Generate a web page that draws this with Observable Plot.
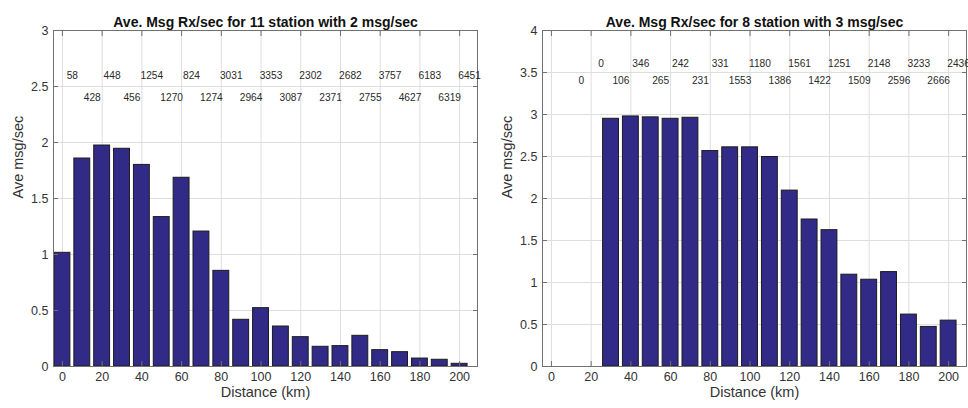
<!DOCTYPE html>
<html>
<head>
<meta charset="utf-8">
<script src="https://cdn.jsdelivr.net/npm/d3@7"></script>
<script src="https://cdn.jsdelivr.net/npm/@observablehq/plot@0.6"></script>
<style>
  html, body { margin: 0; padding: 0; background: #fff; }
  #charts { display: flex; width: 968px; height: 408px; }
  #charts svg { display: block; }
</style>
</head>
<body>
<div id="charts"></div>
<script>
// Distance bins (km), bar centres
const distances = [0, 10, 20, 30, 40, 50, 60, 70, 80, 90, 100, 110, 120, 130, 140, 150, 160, 170, 180, 190, 200];
const xTicks = [0, 20, 40, 60, 80, 100, 120, 140, 160, 180, 200];

// 11 stations, 2 msg/sec
const rateLeft = [1.015, 1.857, 1.973, 1.944, 1.80, 1.334, 1.685, 1.205, 0.854, 0.417, 0.521,
                  0.357, 0.262, 0.176, 0.182, 0.274, 0.146, 0.128, 0.071, 0.060, 0.024];
const countsLeft = [58, 428, 448, 456, 1254, 1270, 824, 1274, 3031, 2964, 3353,
                    3087, 2302, 2371, 2682, 2755, 3757, 4627, 6183, 6319, 6451];
const yTicksLeft = [0, 0.5, 1, 1.5, 2, 2.5, 3];
const countRowsLeft = [2.6, 2.4];

// 8 stations, 3 msg/sec
const rateRight = [0, 0, 0, 2.949, 2.977, 2.966, 2.949, 2.961, 2.565, 2.609, 2.609,
                   2.494, 2.094, 1.75, 1.623, 1.093, 1.033, 1.124, 0.618, 0.471, 0.546];
const countsRight = [null, 0, 0, 106, 346, 265, 242, 231, 331, 1553, 1180,
                     1386, 1561, 1422, 1251, 1509, 2148, 2596, 3233, 2666, 2436];
const yTicksRight = [0, 0.5, 1, 1.5, 2, 2.5, 3, 3.5, 4];
const countRowsRight = [3.6, 3.4];

const barWidth = 8;     // 0.8 of the 10 km bin
const countOffset = 5;  // counts sit on the bin edge
const fontFamily = '"Liberation Sans", Arial, Helvetica, sans-serif';

function panel({title, rates, counts, yTicks, rows, marginLeft, marginRight}) {
  const bars = distances.map((d, i) => ({dist: d, rate: rates[i]}));
  const labels = distances
    .map((d, i) => ({pos: d + countOffset, n: counts[i], row: rows[i % 2]}))
    .filter(d => d.n !== null);
  return Plot.plot({
    width: 484,
    height: 408,
    marginTop: 30,
    marginBottom: 42,
    marginLeft,
    marginRight,
    style: {fontFamily, background: "#fff", color: "#333", overflow: "visible"},
    x: {domain: [-4.5, 209], label: null},
    y: {domain: [yTicks[0], yTicks[yTicks.length - 1]], label: null},
    marks: [
      Plot.gridX(xTicks, {stroke: "#dedede", strokeOpacity: 1}),
      Plot.gridY(yTicks, {stroke: "#dedede", strokeOpacity: 1}),
      Plot.rectY(bars, {
        x1: d => d.dist - barWidth / 2,
        x2: d => d.dist + barWidth / 2,
        y: "rate",
        fill: "#322a87",
        stroke: "#1c1c1c",
        strokeWidth: 1
      }),
      Plot.frame({stroke: "#707070"}),
      // inward ticks on all four sides
      Plot.axisX(xTicks, {anchor: "bottom", tickSize: 5, dy: -5, fill: "none", stroke: "#707070", label: null}),
      Plot.axisX(xTicks, {anchor: "top", tickSize: 5, dy: 5, fill: "none", stroke: "#707070", label: null}),
      Plot.axisY(yTicks, {anchor: "left", tickSize: 5, dx: 5, fill: "none", stroke: "#707070", label: null}),
      Plot.axisY(yTicks, {anchor: "right", tickSize: 5, dx: -5, fill: "none", stroke: "#707070", label: null}),
      // tick labels
      Plot.axisX(xTicks, {anchor: "bottom", tickSize: 0, tickPadding: 6, fontSize: 12.5, fill: "#333", label: null}),
      Plot.axisY(yTicks, {anchor: "left", tickSize: 0, tickPadding: 5, fontSize: 12.5, fill: "#333",
                          tickFormat: d => String(d), label: null}),
      // sample counts per bin
      Plot.text(labels, {x: "pos", y: "row", text: d => String(d.n), fontSize: 10.2, fill: "#2a2a2a"}),
      // titles and axis labels
      Plot.text([title], {text: d => d, frameAnchor: "top", dy: -13, fontWeight: "bold", fontSize: 14, fill: "#111"}),
      Plot.text(["Distance (km)"], {text: d => d, frameAnchor: "bottom", dy: 30, fontSize: 14.5, fill: "#333"}),
      Plot.text(["Ave msg/sec"], {text: d => d, frameAnchor: "left", dx: -35, rotate: -90, fontSize: 14.5, fill: "#333"})
    ]
  });
}

const root = document.getElementById("charts");
root.append(panel({
  title: "Ave. Msg Rx/sec for 11 station with 2 msg/sec",
  rates: rateLeft, counts: countsLeft, yTicks: yTicksLeft, rows: countRowsLeft,
  marginLeft: 53, marginRight: 7
}));
root.append(panel({
  title: "Ave. Msg Rx/sec for 8 station with 3 msg/sec",
  rates: rateRight, counts: countsRight, yTicks: yTicksRight, rows: countRowsRight,
  marginLeft: 58, marginRight: 2
}));
</script>
</body>
</html>
